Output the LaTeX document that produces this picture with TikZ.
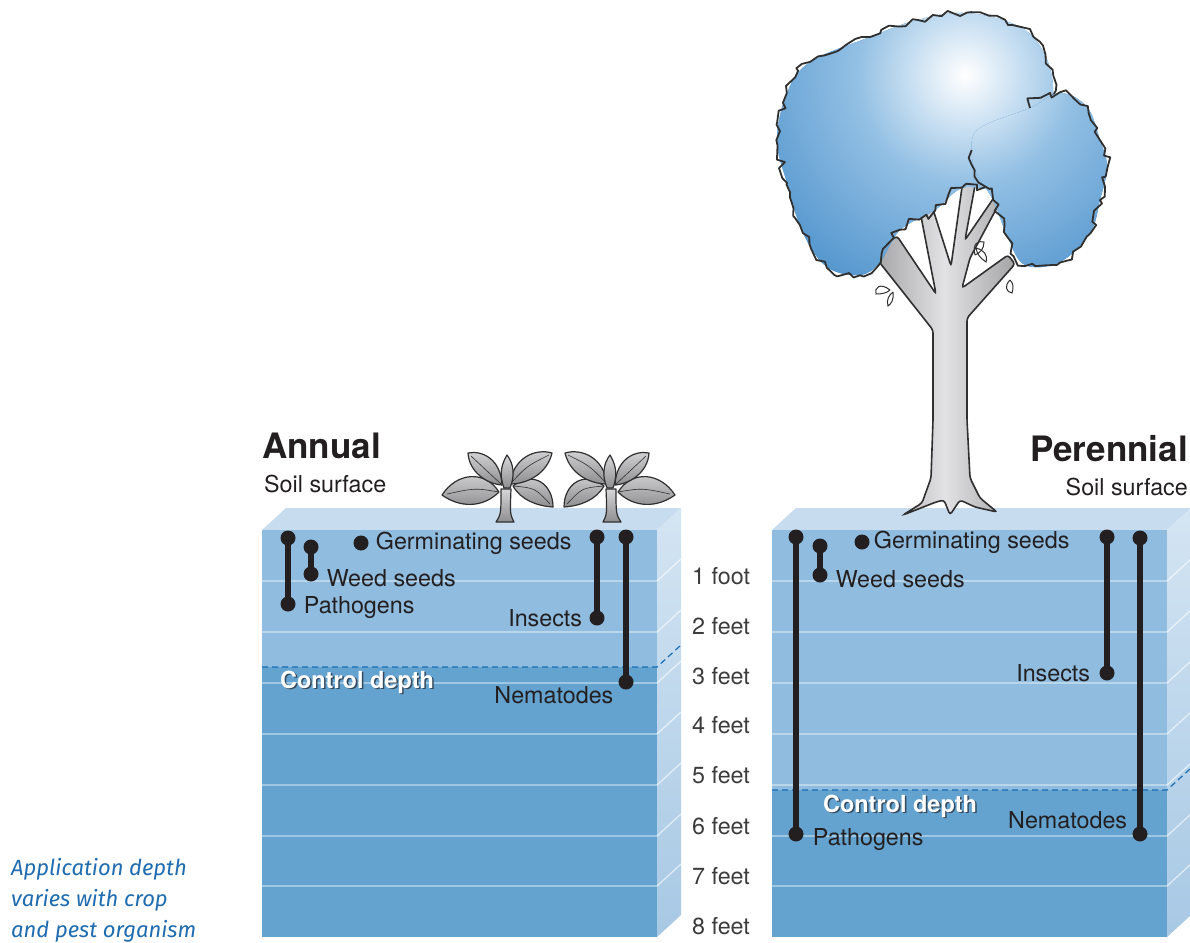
\documentclass[tikz,border=0pt]{standalone}
\usepackage{fontspec}
\setmainfont{TeX Gyre Heros}
\newfontfamily\notefont{Fira Sans}
\usetikzlibrary{positioning, decorations.pathmorphing}

\definecolor{soilup}{HTML}{8FBCDF}
\definecolor{soildown}{HTML}{64A3CF}
\definecolor{soiltop}{HTML}{C7DCEE}
\definecolor{sidetop}{HTML}{D4E5F3}
\definecolor{sidebot}{HTML}{A7C8E4}
\definecolor{ink}{HTML}{231F20}
\definecolor{ctrlblue}{HTML}{1A6DB4}
\definecolor{ctrlshade}{HTML}{34495C}
\definecolor{notecol}{HTML}{1F6CB0}
\definecolor{crownblue}{HTML}{3783C4}
\definecolor{crownmid}{HTML}{93C0E4}
\definecolor{barkdark}{HTML}{A4A4A7}
\definecolor{barklight}{HTML}{E2E2E4}
\definecolor{outline}{HTML}{303030}
\definecolor{leafgray}{HTML}{8E8E90}
\definecolor{leaflight}{HTML}{D6D6D8}
\definecolor{depthgray}{HTML}{3C3C3C}

\pgfdeclareradialshading{crownshade}{\pgfpointorigin}{color(0bp)=(white); color(9bp)=(crownmid);
    color(25bp)=(crownblue); color(50bp)=(crownblue)}

\begin{document}
\begin{tikzpicture}[x=1pt, y=-1pt,
    lbl/.style={font=\fontsize{23.3}{27}\selectfont, text=ink, inner sep=1pt},
    depth/.style={font=\fontsize{23.3}{27}\selectfont, text=depthgray, inner sep=0pt, anchor=west},
    title/.style={font=\bfseries\fontsize{35}{40}\selectfont, text=ink, inner sep=0pt},
    surface/.style={font=\fontsize{23.3}{27}\selectfont, text=ink, inner sep=0pt},
    ctrl/.style={font=\bfseries\fontsize{23.5}{27}\selectfont, text=white, inner sep=0pt},
    note/.style={font=\notefont\itshape\fontsize{22}{31}\selectfont, text=notecol, align=left, inner sep=0pt},
    dot/.style={circle, fill=ink, inner sep=0pt, minimum size=15pt},
    bar/.style={line width=6pt, ink},
    layer/.style={draw=white, draw opacity=0.6, line width=1.3pt},
    ctrlline/.style={ctrlblue, dashed, dash pattern=on 6pt off 4pt, line width=1.2pt},
    leaf/.style={draw=outline, top color=leaflight, bottom color=leafgray, line width=1.2pt, line join=round},
    rib/.style={outline, line width=0.6pt},
    crownline/.style={draw=outline, line width=1.8pt, line join=round,
        decorate, decoration={random steps, segment length=7pt, amplitude=4.2pt}},
    seedling/.pic={
        \draw[leaf] (-9,0) .. controls (-4,-8) .. (-4,-33) -- (6,-33) .. controls (5,-8) .. (9,0) -- cycle;
        \draw[leaf] (-6,-30) .. controls (-20,-52) and (-48,-50) .. (-63,-27)
            .. controls (-45,-14) and (-22,-14) .. cycle;
        \draw[rib] (-6,-30) .. controls (-30,-34) .. (-58,-28);
        \draw[leaf] (-3,-37) .. controls (-4,-62) and (-22,-72) .. (-37,-69)
            .. controls (-36,-50) and (-18,-38) .. cycle;
        \draw[rib] (-3,-37) .. controls (-18,-52) .. (-34,-66);
        \draw[leaf] (8,-36) .. controls (28,-52) and (48,-38) .. (48,-15)
            .. controls (32,-16) and (16,-22) .. cycle;
        \draw[rib] (8,-36) .. controls (30,-34) .. (45,-18);
        \draw[leaf] (5,-38) .. controls (8,-64) and (30,-74) .. (47,-69)
            .. controls (42,-48) and (22,-38) .. cycle;
        \draw[rib] (5,-38) .. controls (22,-56) .. (44,-67);
        \draw[leaf] (-1,-34) .. controls (-7,-50) and (-2,-60) .. (2,-67)
            .. controls (9,-58) and (10,-46) .. (5,-34) -- cycle;
    }]

    \useasboundingbox[fill=white] (0,0) rectangle (1190,942);

    % Note at the lower left
    \node[note, anchor=north west] (note) at (11,858)
        {Application depth\\varies with crop\\and pest organism};

    % Annual soil block
    \fill[soiltop] (262,530) -- (286,508) -- (681,508) -- (657,530) -- cycle;
    \fill[soilup] (262,530) rectangle (657,667);
    \fill[soildown] (262,667) rectangle (657,937);
    \shade[top color=sidetop, bottom color=sidebot] (657,530) -- (681,508) -- (681,915) -- (657,937) -- cycle;
    \foreach \y in {581,632,683,734,785,836,886}
        \draw[layer] (262,\y) -- (657,\y) -- ++(24,-22);
    \draw[ctrlline] (262,667) -- (657,667) -- ++(24,-22);

    % Perennial soil block
    \fill[soiltop] (772,530) -- (796,508) -- (1191,508) -- (1167,530) -- cycle;
    \fill[soilup] (772,530) rectangle (1167,790);
    \fill[soildown] (772,790) rectangle (1167,937);
    \shade[top color=sidetop, bottom color=sidebot] (1167,530) -- (1191,508) -- (1191,915) -- (1167,937) -- cycle;
    \foreach \y in {581,632,683,734,785,836,886}
        \draw[layer] (772,\y) -- (1167,\y) -- ++(24,-22);
    \draw[ctrlline] (772,790) -- (1167,790) -- ++(24,-22);

    % Titles
    \node[title, anchor=west] (annual) at (262,446) {Annual};
    \node[surface, anchor=west] (asoil) at (264,484) {Soil surface};
    \node[title, anchor=east] (perennial) at (1188,449) {Perennial};
    \node[surface, anchor=east] (psoil) at (1188,487) {Soil surface};

    % Depth scale
    \node[depth] (d1) at (692,576) {1 foot};
    \node[depth] (d2) at (692,626) {2 feet};
    \node[depth] (d3) at (692,676) {3 feet};
    \node[depth] (d4) at (692,725) {4 feet};
    \node[depth] (d5) at (692,775) {5 feet};
    \node[depth] (d6) at (692,826) {6 feet};
    \node[depth] (d7) at (692,876) {7 feet};
    \node[depth] (d8) at (692,926) {8 feet};

    % Control depth labels
    \node[ctrl, text=ctrlshade] (acds) at (358.6,683.6) {Control depth};
    \node[ctrl] (acd) at (357,682) {Control depth};
    \node[ctrl, text=ctrlshade] (pcds) at (901.6,807.6) {Control depth};
    \node[ctrl] (pcd) at (900,806) {Control depth};

    % Annual ranges
    \node[dot] (ap1) at (288,538) {};
    \node[dot] (ap2) at (288,604) {};
    \draw[bar] (ap1.center) -- (ap2.center);
    \node[lbl, right=7pt of ap2, yshift=-4pt] (apl) {Pathogens};
    \node[dot] (aw1) at (311,547) {};
    \node[dot] (aw2) at (311,574) {};
    \draw[bar] (aw1.center) -- (aw2.center);
    \node[lbl, right=7pt of aw2, yshift=-4pt] (awl) {Weed seeds};
    \node[dot] (ag) at (361,543) {};
    \node[lbl, right=6pt of ag] (agl) {Germinating seeds};
    \node[dot] (ai1) at (597,537) {};
    \node[dot] (ai2) at (597,618) {};
    \draw[bar] (ai1.center) -- (ai2.center);
    \node[lbl, left=6pt of ai2] (ail) {Insects};
    \node[dot] (an1) at (626,537) {};
    \node[dot] (an2) at (626,682) {};
    \draw[bar] (an1.center) -- (an2.center);
    \node[lbl, below left=-2pt and 6pt of an2] (anl) {Nematodes};

    % Perennial ranges
    \node[dot] (pp1) at (796,537) {};
    \node[dot] (pp2) at (796,834) {};
    \draw[bar] (pp1.center) -- (pp2.center);
    \node[lbl, right=8pt of pp2, yshift=-6pt] (ppl) {Pathogens};
    \node[dot] (pw1) at (820,546) {};
    \node[dot] (pw2) at (820,575) {};
    \draw[bar] (pw1.center) -- (pw2.center);
    \node[lbl, right=7pt of pw2, yshift=-4pt] (pwl) {Weed seeds};
    \node[dot] (pg) at (862,542) {};
    \node[lbl, right=3pt of pg] (pgl) {Germinating seeds};
    \node[dot] (pi1) at (1107,537) {};
    \node[dot] (pi2) at (1107,673) {};
    \draw[bar] (pi1.center) -- (pi2.center);
    \node[lbl, left=8pt of pi2] (pil) {Insects};
    \node[dot] (pn1) at (1140,538) {};
    \node[dot] (pn2) at (1140,834) {};
    \draw[bar] (pn1.center) -- (pn2.center);
    \node[lbl, left=4pt of pn2, yshift=14pt] (pnl) {Nematodes};

    % Seedlings on the annual block
    \pic at (505,522) {seedling};
    \pic[xscale=-1] at (612,522) {seedling};

    % Tree trunk and branches
    \shade[left color=barkdark, right color=barkdark, middle color=barklight,
           draw=outline, line width=1.6pt, rounded corners=3pt]
        (903,515) -- (922,503) -- (931,478) -- (933,420) -- (933,330) -- (880,263)
        -- (874,252) -- (897,236) -- (936,294) -- (919,206) -- (924,200) -- (931,203)
        -- (951,266) -- (963,180) -- (969,176) -- (976,180) -- (965,240) -- (995,196)
        -- (1001,200) -- (970,258) -- (962,288) -- (1008,255) -- (1015,264) -- (967,318)
        -- (967,420) -- (970,478) -- (980,498) -- (997,512) -- (975,507) -- (960,500)
        -- (950,515) -- (944,500) -- (936,502) -- cycle;

    % Tree crown, left lobe
    \pgfmathsetseed{11}
    \begin{scope}
        \clip plot[smooth cycle, tension=0.6] coordinates {(787,93) (810,62) (870,37) (917,20)
            (967,13) (1020,27) (1045,55) (1053,95) (1040,140) (1000,185) (962,188) (935,210)
            (900,230) (880,262) (860,275) (827,267) (803,233) (787,183) (777,140)};
        \fill[crownblue] (700,0) rectangle (1150,300);
        \shade[shading=crownshade] (965,75) circle (300);
    \end{scope}
    \draw[crownline] plot[smooth cycle, tension=0.6] coordinates {(787,93) (810,62) (870,37) (917,20)
            (967,13) (1020,27) (1045,55) (1053,95) (1040,140) (1000,185) (962,188) (935,210)
            (900,230) (880,262) (860,275) (827,267) (803,233) (787,183) (777,140)};

    % Tree crown, right lobe
    \begin{scope}
        \clip plot[smooth cycle, tension=0.6] coordinates {(985,125) (1030,108) (1060,93) (1087,107)
            (1100,140) (1107,167) (1100,200) (1090,233) (1060,262) (1025,265) (1008,238)
            (993,200) (975,170) (972,140)};
        \fill[crownblue] (900,50) rectangle (1150,300);
        \shade[shading=crownshade] (965,75) circle (300);
    \end{scope}
    \draw[crownline] plot[smooth, tension=0.6] coordinates {(1030,108) (1060,93) (1087,107)
            (1100,140) (1107,167) (1100,200) (1090,233) (1060,262) (1025,265) (1008,238)
            (993,200) (975,170) (972,150)};

    % Small leaves on the branches
    \draw[outline, line width=1pt] (890,290) .. controls (880,282) and (874,288) .. (876,294)
        .. controls (882,294) and (887,293) .. (890,290);
    \draw[outline, line width=1pt] (893,292) .. controls (894,300) and (891,304) .. (888,306)
        .. controls (886,300) and (889,295) .. (893,292);
    \draw[outline, line width=1pt] (975,255) .. controls (972,244) and (978,240) .. (984,242)
        .. controls (984,249) and (980,253) .. (975,255);
    \draw[outline, line width=1pt] (976,248) .. controls (984,250) and (988,255) .. (986,262)
        .. controls (980,258) and (977,254) .. (976,248);
    \draw[outline, line width=1pt] (1010,280) .. controls (1004,286) and (1006,292) .. (1012,293)
        .. controls (1014,287) and (1013,283) .. (1010,280);
\end{tikzpicture}
\end{document}
